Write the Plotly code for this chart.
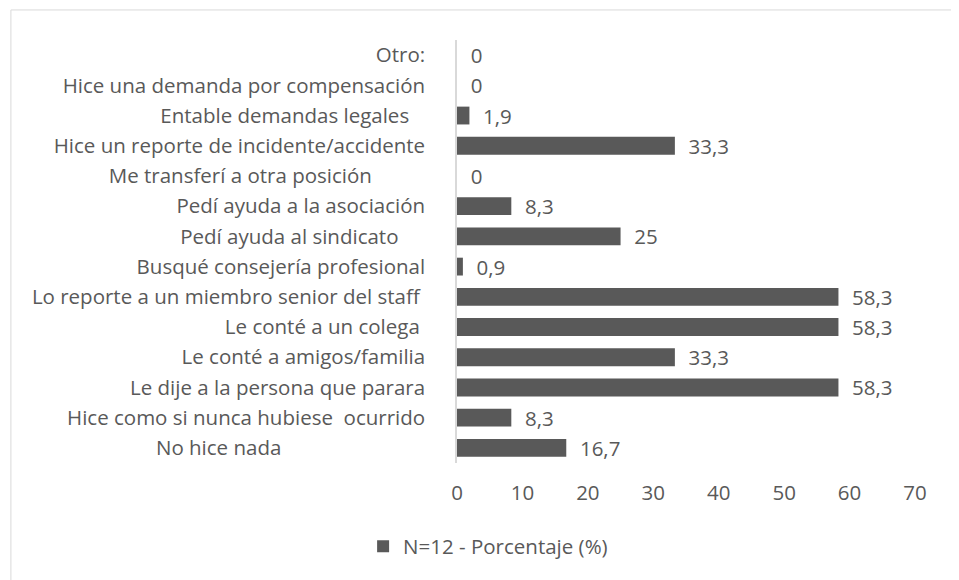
import plotly.graph_objects as go

# categories listed bottom -> top as they appear on the chart
categorias = [
    "No hice nada",
    "Hice como si nunca hubiese  ocurrido",
    "Le dije a la persona que parara",
    "Le conté a amigos/familia",
    "Le conté a un colega ",
    "Lo reporte a un miembro senior del staff ",
    "Busqué consejería profesional",
    "Pedí ayuda al sindicato ",
    "Pedí ayuda a la asociación",
    "Me transferí a otra posición",
    "Hice un reporte de incidente/accidente",
    "Entable demandas legales ",
    "Hice una demanda por compensación",
    "Otro:",
]
porcentaje = [16.7, 8.3, 58.3, 33.3, 58.3, 58.3, 0.9, 25, 8.3, 0, 33.3, 1.9, 0, 0]
# trailing blanks the original labels carry (keeps their ragged right edge)
relleno = [27, 0, 0, 0, 0, 0, 0, 4, 0, 10, 0, 2, 0, 0]
x_ticks = [0, 10, 20, 30, 40, 50, 60, 70]

gris = "#595959"
etiquetas = [c.replace(" ", "\u00a0") + "\u00a0" * n for c, n in zip(categorias, relleno)]
textos = ["\u00a0\u00a0" + ("%g" % v).replace(".", ",") for v in porcentaje]

fig = go.Figure()
fig.add_trace(go.Bar(
    y=categorias, x=porcentaje, orientation="h",
    marker=dict(color=gris, line=dict(width=0)),
    text=textos, textposition="outside", cliponaxis=False, constraintext="none",
    textfont=dict(color=gris, size=20.5),
    name="N=12 - Porcentaje (%)",
))

# page body adds 8px, so margins are 8px less than screen positions
fig.update_layout(
    width=959, height=580,
    margin=dict(l=449, r=52, t=32, b=125, autoexpand=False),
    paper_bgcolor="white", plot_bgcolor="white",
    font=dict(family="Open Sans", size=20.5, color=gris),
    bargap=0.41,
    showlegend=True,
    legend=dict(x=-0.205, y=-0.197, xanchor="left", yanchor="middle",
                font=dict(size=20.5, color=gris)),
    xaxis=dict(range=[0, 70], tickvals=x_ticks, showgrid=False, zeroline=False,
               showline=False, ticks="", ticklabelstandoff=15, automargin=False),
    yaxis=dict(categoryorder="array", categoryarray=categorias,
               tickvals=categorias, ticktext=etiquetas,
               showgrid=False, zeroline=False, showline=True, automargin=False,
               linecolor="#d9d9d9", linewidth=1.5, ticks="", ticklabelstandoff=26),
)

# light frame around the chart area
fig.add_shape(type="rect", xref="paper", yref="paper",
              x0=-0.974, x1=1.3, y0=-0.6, y1=1.071,
              line=dict(color="#d9d9d9", width=1), fillcolor="rgba(0,0,0,0)")

fig.write_html("out.html")
